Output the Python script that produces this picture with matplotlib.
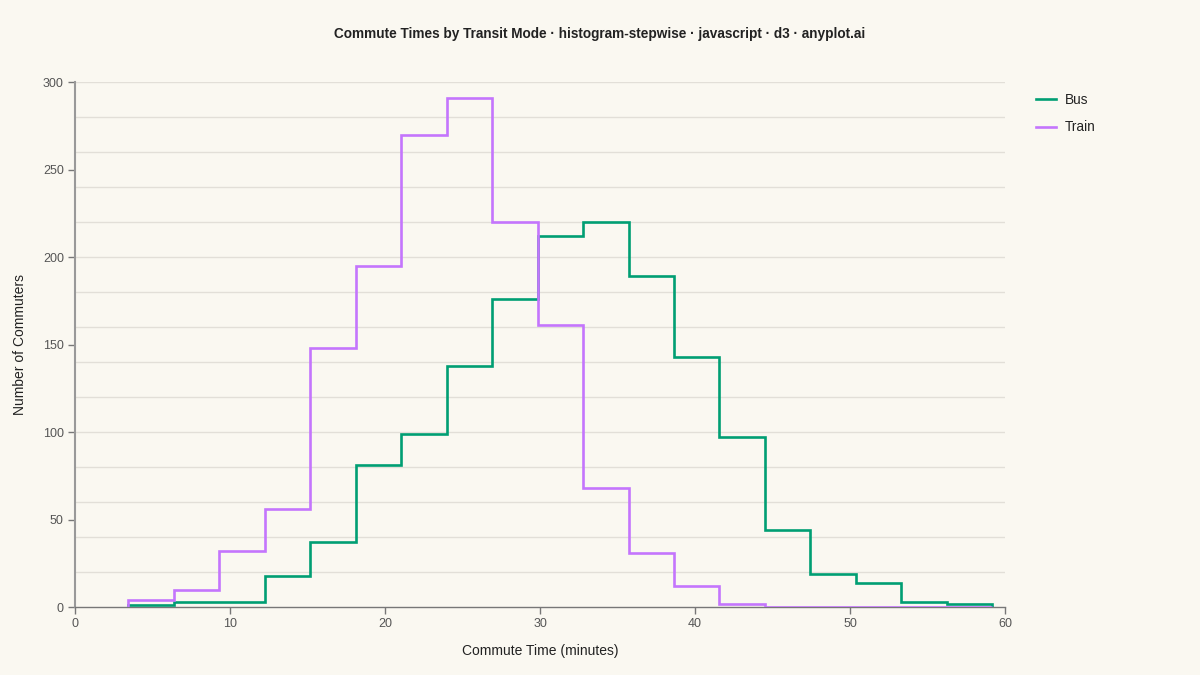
import matplotlib
matplotlib.use("Agg")
import matplotlib.pyplot as plt
from matplotlib.ticker import MultipleLocator

plt.rcParams['font.family'] = ['Liberation Sans', 'DejaVu Sans']

# bin edges (minutes) and counts per bin
bin_edges = [3.42, 6.36, 9.29, 12.23, 15.16, 18.10, 21.03, 23.97, 26.90, 29.84,
             32.78, 35.71, 38.65, 41.58, 44.52, 47.45, 50.39, 53.32, 56.26, 59.19]
bus_counts = [1, 3, 3, 18, 37, 81, 99, 138, 176, 212,
              220, 189, 143, 97, 44, 19, 14, 3, 2]
train_counts = [4, 10, 32, 56, 148, 195, 270, 291, 220, 161,
                68, 31, 12, 2, 0, 0, 0, 0, 0]

bg = '#faf8f1'
bus_color = '#009e73'
train_color = '#c475fd'

fig = plt.figure(figsize=(12, 6.75), dpi=100, facecolor=bg)
ax = fig.add_axes([0.0625, 0.1007, 0.775, 0.7778], facecolor=bg)

ax.stairs(bus_counts, bin_edges, color=bus_color, linewidth=1.9, label='Bus', zorder=3)
ax.stairs(train_counts, bin_edges, color=train_color, linewidth=1.9, label='Train', zorder=4)

ax.set_xlim(0, 60)
ax.set_ylim(0, 300)
ax.xaxis.set_major_locator(MultipleLocator(10))
ax.yaxis.set_major_locator(MultipleLocator(50))
# grid runs every 20, ticks every 50
for v in range(20, 301, 20):
    ax.axhline(v, color='#e2dfd8', linewidth=1, zorder=0)
ax.tick_params(axis='both', which='major', length=5, width=1, color='#777777',
               labelsize=9, labelcolor='#555555', pad=3)

for side in ['top', 'right']:
    ax.spines[side].set_visible(False)
ax.spines['left'].set_color('#999999')
ax.spines['left'].set_linewidth(1.5)
ax.spines['bottom'].set_color('#777777')
ax.spines['bottom'].set_linewidth(1)

ax.set_xlabel('Commute Time (minutes)', fontsize=10, color='#222222')
ax.set_ylabel('Number of Commuters', fontsize=10, color='#222222')
ax.xaxis.set_label_coords(0.5, -0.084)
ax.yaxis.set_label_coords(-0.0595, 0.5)
ax.xaxis.label.set_va('center')
ax.yaxis.label.set_va('center')

fig.text(0.5, 0.949, 'Commute Times by Transit Mode · histogram-stepwise · javascript · d3 · anyplot.ai',
         ha='center', va='center', fontsize=9.8, fontweight='bold', color='#222222')

leg = ax.legend(loc='upper left', bbox_to_anchor=(1.028, 0.99), frameon=False,
                fontsize=9.8, handlelength=1.4, handletextpad=0.7, labelspacing=1.0,
                borderaxespad=0)
for t in leg.get_texts():
    t.set_color('#222222')

fig.savefig('out.png', dpi=100, facecolor=bg)
